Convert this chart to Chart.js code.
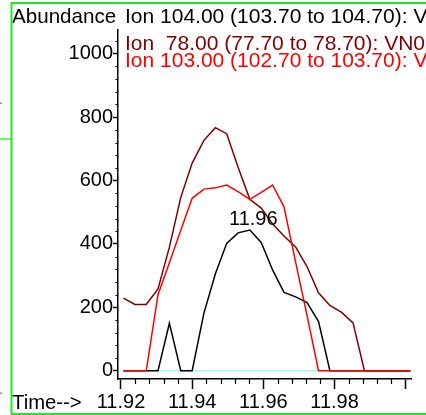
<!DOCTYPE html>
<html>
<head>
<meta charset="utf-8">
<script src="https://cdn.jsdelivr.net/npm/chart.js@4/dist/chart.umd.min.js"></script>
<style>
  html, body { margin: 0; padding: 0; background: #ffffff; }
  #c { display: block; }
</style>
</head>
<body>
<canvas id="c" width="426" height="415"></canvas>
<script>
// ---- data ----
const times = [11.9207, 11.9239, 11.9271, 11.9304, 11.9336, 11.9368, 11.9400, 11.9433, 11.9465, 11.9497,
               11.9529, 11.9562, 11.9594, 11.9626, 11.9658, 11.9691, 11.9723, 11.9755, 11.9787, 11.9820,
               11.9852, 11.9884, 11.9917, 11.9949, 11.9981, 12.0013];
const ion104 = [0, 0, 0, 0, 150, 0, 0, 182, 305, 402, 435, 444, 405, 318, 247, 233, 215, 155, 0, 0, 0, 0, 0, 0, 0, 0];
const ion78  = [229, 209, 209, 258, 390, 547, 655, 727, 767, 748, 642, 541, 513, 463, 425, 390, 328, 246, 206, 184, 151, 0, 0, 0, 0, 0];
const ion103 = [0, 0, 0, 240, 341, 443, 544, 573, 577, 586, 565, 541, 563, 586, 517, 341, 173, 0, 0, 0, 0, 0, 0, 0, 0, 0];
const ionBase = [0, 0, 0, 0, 0, 0, 0, 0, 0, 0, 0, 0, 0, 0, 0, 0, 0, 0, 0, 0, 0, 0, 0, 0, 0, 0];

const seriesNames = ['Ion 104.00 (103.70 to 104.70): V', 'Ion  78.00 (77.70 to 78.70): VN0', 'Ion 103.00 (102.70 to 103.70): V'];
const seriesColors = ['#000000', '#800000', '#ff0000'];
const baseColor = '#a0f7f7';

const xMajorTicks = [11.92, 11.94, 11.96, 11.98, 12.00];
const xMajorLabels = ['11.92', '11.94', '11.96', '11.98', ''];
const xMinorTicks = [11.924, 11.928, 11.932, 11.936, 11.944, 11.948, 11.952, 11.956, 11.964, 11.968,
                     11.972, 11.976, 11.984, 11.988, 11.992, 11.996];
const yMajorTicks = [0, 200, 400, 600, 800, 1000];
const yMinorTicks = [40, 80, 120, 160, 240, 280, 320, 360, 440, 480, 520, 560, 640, 680, 720, 760,
                     840, 880, 920, 960, 1040];
const xRange = [11.91916, 12.00157];
const yRange = [-26, 1075];
const yTitle = 'Abundance';
const xTitle = 'Time-->';
const peakLabel = '11.96';

const FONT = '"Liberation Sans", Arial, sans-serif';

function pts(vals) { return vals.map((v, i) => ({ x: times[i], y: v })); }

const overlay = {
  id: 'overlay',
  afterDraw(chart) {
    const c = chart.ctx;
    const xs = chart.scales.x, ys = chart.scales.y;
    const ca = chart.chartArea;
    c.save();
    // minor ticks
    c.strokeStyle = '#000';
    c.lineWidth = 1.2;
    c.beginPath();
    xMinorTicks.forEach(v => {
      const px = Math.round(xs.getPixelForValue(v)) + 0.5;
      c.moveTo(px, ca.bottom); c.lineTo(px, ca.bottom + 5);
    });
    yMinorTicks.forEach(v => {
      const py = Math.round(ys.getPixelForValue(v)) + 0.5;
      c.moveTo(ca.left, py); c.lineTo(ca.left - 2.5, py);
    });
    c.stroke();

    // texts
    c.textBaseline = 'alphabetic';
    c.textAlign = 'left';
    c.fillStyle = '#000';
    c.font = '20.6px ' + FONT;
    c.fillText(yTitle, 12, 22.5);
    c.font = '20.3px ' + FONT;
    c.fillText(xTitle, 12, 408.5);
    c.font = '21px ' + FONT;
    const legendY = [23, 50, 66.5];
    seriesNames.forEach((n, i) => {
      c.fillStyle = seriesColors[i];
      c.fillText(n, 125, legendY[i]);
    });
    // peak label above the apex of the first series
    let imax = 0;
    ion104.forEach((v, i) => { if (v > ion104[imax]) imax = i; });
    c.font = '20px ' + FONT;
    c.fillStyle = '#000';
    c.textAlign = 'center';
    c.fillText(peakLabel, xs.getPixelForValue(times[imax]) + 3.5, ys.getPixelForValue(ion104[imax]) - 5.5);

    // frame
    c.strokeStyle = '#22e622';
    c.lineWidth = 2;
    c.beginPath();
    c.moveTo(11, 3); c.lineTo(426, 3);
    c.moveTo(11.5, 2.5); c.lineTo(11.5, 414);
    c.moveTo(11, 414); c.lineTo(426, 414);
    c.stroke();
    c.lineWidth = 1.3;
    c.beginPath();
    c.moveTo(0, 139); c.lineTo(11, 139);
    c.stroke();
    c.fillStyle = '#888';
    c.fillRect(0, 102.5, 2, 1.3);
    c.fillRect(0, 392.5, 2, 1.3);
    c.restore();
  }
};

const lineDs = (label, vals, color, order) => ({
  label, data: pts(vals), borderColor: color, backgroundColor: color,
  borderWidth: 1.5, pointRadius: 0, tension: 0, fill: false, order
});

new Chart(document.getElementById('c'), {
  type: 'line',
  data: {
    datasets: [
      lineDs(seriesNames[2], ion103, seriesColors[2], 1),
      lineDs(seriesNames[1], ion78, seriesColors[1], 2),
      lineDs(seriesNames[0], ion104, seriesColors[0], 3),
      lineDs('base', ionBase, baseColor, 4)
    ]
  },
  options: {
    responsive: false,
    animation: false,
    devicePixelRatio: 1,
    layout: { padding: { left: 0, right: 14.7, top: 30, bottom: 0 } },
    plugins: { legend: { display: false }, tooltip: { enabled: false } },
    scales: {
      x: {
        type: 'linear', min: xRange[0], max: xRange[1],
        afterBuildTicks: s => { s.ticks = xMajorTicks.map(v => ({ value: v })); },
        afterFit: s => { s.height = 36; },
        ticks: {
          autoSkip: false, maxRotation: 0, padding: 1, color: '#000',
          font: { family: FONT, size: 20 },
          callback: (v, i) => xMajorLabels[i]
        },
        grid: { display: true, drawOnChartArea: false, drawTicks: true, tickLength: 10, tickColor: '#000', tickWidth: 1.5 },
        border: { display: true, color: '#000', width: 1.5 }
      },
      y: {
        min: yRange[0], max: yRange[1],
        afterBuildTicks: s => { s.ticks = yMajorTicks.map(v => ({ value: v })); },
        afterFit: s => { s.width = 118; },
        ticks: {
          autoSkip: false, padding: 0, color: '#000',
          font: { family: FONT, size: 20 },
          callback: v => String(v)
        },
        grid: { display: true, drawOnChartArea: false, drawTicks: true, tickLength: 5, tickColor: '#000', tickWidth: 1.5 },
        border: { display: true, color: '#000', width: 1.5 }
      }
    }
  },
  plugins: [overlay]
});
</script>
</body>
</html>
